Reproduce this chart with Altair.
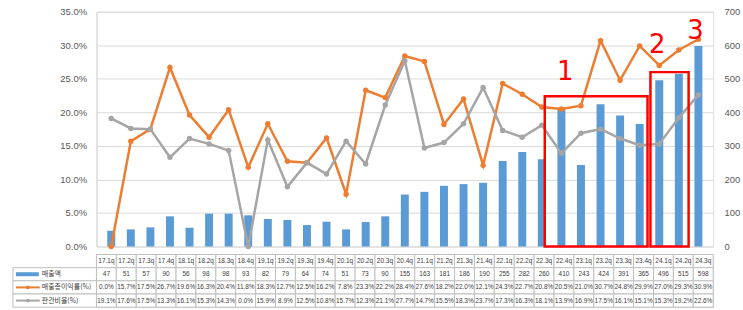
import altair as alt
import pandas as pd

quarters = ["17.1q", "17.2q", "17.3q", "17.4q", "18.1q", "18.2q", "18.3q", "18.4q",
            "19.1q", "19.2q", "19.3q", "19.4q", "20.1q", "20.2q", "20.3q", "20.4q",
            "21.1q", "21.2q", "21.3q", "21.4q", "22.1q", "22.2q", "22.3q", "22.4q",
            "23.1q", "23.2q", "23.3q", "23.4q", "24.1q", "24.2q", "24.3q"]
sales = [47, 51, 57, 90, 56, 98, 98, 93, 82, 79, 64, 74, 51, 73, 90, 155,
         163, 181, 186, 190, 255, 282, 260, 410, 243, 424, 391, 365, 496, 515, 598]
gross_margin = [0.0, 15.7, 17.5, 26.7, 19.6, 16.3, 20.4, 11.8, 18.3, 12.7, 12.5, 16.2,
                7.8, 23.3, 22.2, 28.4, 27.6, 18.2, 22.0, 12.1, 24.3, 22.7, 20.8, 20.5,
                21.0, 30.7, 24.8, 29.9, 27.0, 29.3, 30.9]
sga_ratio = [19.1, 17.6, 17.5, 13.3, 16.1, 15.3, 14.3, 0.0, 15.9, 8.9, 12.5, 10.8,
             15.7, 12.3, 21.1, 27.7, 14.7, 15.5, 18.3, 23.7, 17.3, 16.3, 18.1, 13.9,
             16.9, 17.5, 16.1, 15.1, 15.3, 19.2, 22.6]

series_names = ["매출액", "매출총이익률(%)", "판관비율(%)"]
series_colors = ["#5B9BD5", "#ED7D31", "#A5A5A5"]

# annotation boxes: start index, end index, top value (%)
box_start = [22.15, 27.55]
box_end = [27.4, 29.5]
box_top = [22.4, 26.0]
# handwritten marks
note_text = ["1", "2", "3"]
note_pos = [23.2, 27.9, 29.85]
note_val = [26.0, 30.0, 32.2]

n = len(quarters)
idx = list(range(n))
xscale = alt.Scale(domain=[-0.5, n - 0.5], nice=False, zero=False)
FONT = "Liberation Sans"
KFONT = "Noto Sans CJK KR"
W, H = 620, 236

main_df = pd.DataFrame({"i": idx, "q": quarters, "sales": sales})
line_df = pd.DataFrame({
    "i": idx * 2,
    "series": [series_names[1]] * n + [series_names[2]] * n,
    "v": [v / 100 for v in gross_margin] + [v / 100 for v in sga_ratio],
})
box_df = pd.DataFrame({"x0": box_start, "x1": box_end, "top": [v / 100 for v in box_top], "bottom": [0, 0]})
note_df = pd.DataFrame({"t": note_text, "i": note_pos, "v": [v / 100 for v in note_val]})

pct_scale = alt.Scale(domain=[0, 0.35], nice=False)

bars = alt.Chart(main_df).mark_bar(color=series_colors[0], size=8).encode(
    x=alt.X("i:Q", scale=xscale, axis=None),
    y=alt.Y("sales:Q", scale=alt.Scale(domain=[0, 700], nice=False),
            axis=alt.Axis(orient="right", values=list(range(0, 701, 100)), grid=False,
                          domain=False, ticks=False, labelColor="#595959", labelFontSize=9.5,
                          labelFont=FONT, labelPadding=11, title=None, labelAlign="left")),
)

lines = alt.Chart(line_df).mark_line(
    strokeWidth=2.5, point=alt.OverlayMarkDef(size=30, filled=True)
).encode(
    x=alt.X("i:Q", scale=xscale, axis=None),
    y=alt.Y("v:Q", scale=pct_scale,
            axis=alt.Axis(format=".1%", values=[0, 0.05, 0.1, 0.15, 0.2, 0.25, 0.3, 0.35],
                          grid=True, gridColor="#D9D9D9", domain=True, domainColor="#D9D9D9",
                          ticks=False, labelColor="#595959", labelFontSize=9.5, labelFont=FONT,
                          labelPadding=10, title=None)),
    color=alt.Color("series:N", scale=alt.Scale(domain=series_names[1:], range=series_colors[1:]),
                    legend=None),
)

boxes = alt.Chart(box_df).mark_rect(filled=False, stroke="#FF0000", strokeWidth=2.5).encode(
    x=alt.X("x0:Q", scale=xscale, axis=None), x2="x1:Q",
    y=alt.Y("top:Q", scale=pct_scale, axis=None), y2="bottom:Q",
)

notes = alt.Chart(note_df).mark_text(color="#FF0000", fontSize=26, font="DejaVu Sans").encode(
    x=alt.X("i:Q", scale=xscale, axis=None),
    y=alt.Y("v:Q", scale=pct_scale, axis=None),
    text="t:N",
)

top = alt.layer(bars, lines, boxes, notes).resolve_scale(y="independent").properties(width=W, height=H)

# ---- data table ----
rows = ["cat"] + series_names
trows = []
for i in idx:
    trows.append({"i": i, "x0": i - 0.5, "x1": i + 0.5, "row": "cat", "label": quarters[i]})
    trows.append({"i": i, "x0": i - 0.5, "x1": i + 0.5, "row": series_names[0], "label": str(sales[i])})
    trows.append({"i": i, "x0": i - 0.5, "x1": i + 0.5, "row": series_names[1], "label": f"{gross_margin[i]:.1f}%"})
    trows.append({"i": i, "x0": i - 0.5, "x1": i + 0.5, "row": series_names[2], "label": f"{sga_ratio[i]:.1f}%"})
table_df = pd.DataFrame(trows)
head_df = pd.DataFrame({"row": series_names, "color": series_colors})

yrow = alt.Y("row:N", sort=rows, axis=None, scale=alt.Scale(domain=rows, paddingInner=0, paddingOuter=0))

cells = alt.Chart(table_df).mark_rect(fill="white", stroke="#BFBFBF", strokeWidth=1).encode(
    x=alt.X("x0:Q", scale=xscale, axis=None), x2="x1:Q", y=yrow)
cell_text = alt.Chart(table_df).mark_text(fontSize=6.5, color="#404040", font=FONT).encode(
    x=alt.X("i:Q", scale=xscale, axis=None), y=yrow, text="label:N")
head_cells = alt.Chart(head_df).mark_rect(fill="white", stroke="#BFBFBF", strokeWidth=1).encode(
    x=alt.value(-84), x2=alt.value(0), y=yrow)
head_text = alt.Chart(head_df).mark_text(fontSize=7, color="#404040", font=KFONT, align="left").encode(
    x=alt.value(-55), y=yrow, text="row:N")
sw_bar = alt.Chart(head_df[head_df["row"] == series_names[0]]).mark_rule(strokeWidth=4).encode(
    x=alt.value(-81), x2=alt.value(-58), y=yrow, color=alt.Color("color:N", scale=None))
line_heads = head_df[head_df["row"] != series_names[0]]
sw_line = alt.Chart(line_heads).mark_rule(strokeWidth=2).encode(
    x=alt.value(-81), x2=alt.value(-57), y=yrow, color=alt.Color("color:N", scale=None))
sw_pt = alt.Chart(line_heads).mark_point(filled=True, size=14, opacity=1).encode(
    x=alt.value(-69), y=yrow, color=alt.Color("color:N", scale=None))

table = alt.layer(cells, cell_text, head_cells, head_text, sw_bar, sw_line, sw_pt).properties(width=W, height=53)

chart = alt.vconcat(top, table, spacing=1).properties(
    padding={"left": 12, "top": 5, "right": 2, "bottom": 0}
).configure_view(stroke=None).configure(background="white")

chart.save("out.html", embed_options={"renderer": "svg", "actions": False})
